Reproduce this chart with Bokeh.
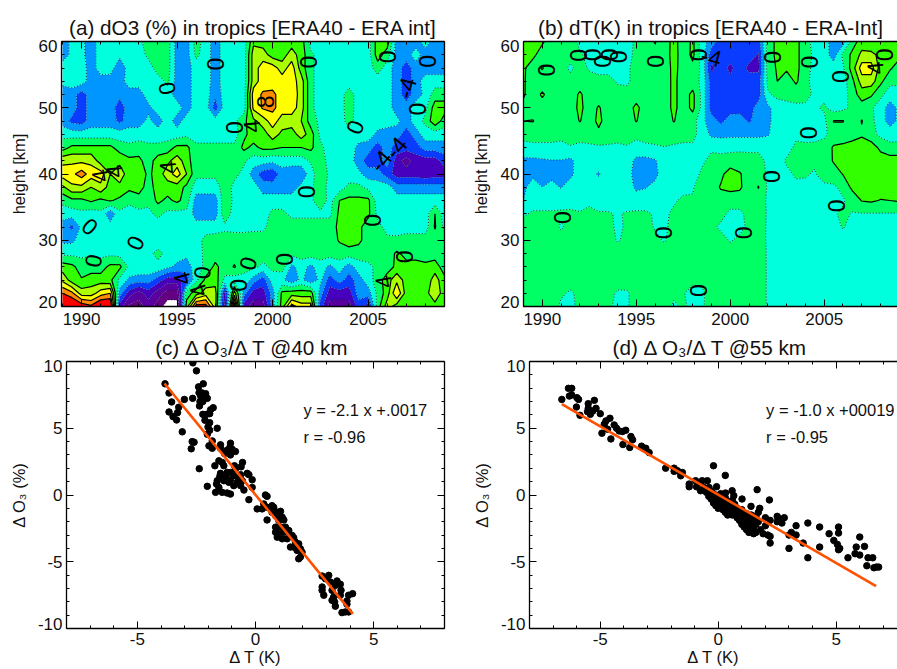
import numpy as np
from bokeh.embed import file_html
from bokeh.resources import INLINE
from bokeh.plotting import figure
from bokeh.layouts import column, row
from bokeh.models import LinearAxis, SingleIntervalTicker, FixedTicker, Label, ColumnDataSource
from bokeh.core.properties import value

FONT = "Liberation Sans"

years = [1989 + 0.5 * i for i in range(41)]
heights = [20, 22, 24, 26, 28, 30, 32, 34, 36, 38, 40, 42, 44, 46, 48, 50, 52, 54, 56, 58, 60]

a20 = [13,13,11.5,10.5,13,13,-7,-10.5,-11,-9, -11,-13,-13,3,11,11,5,-9,12,-7, -9,-9,-3,3,9,7,7,-5,-9,-9, -9,-5,-7,1,5,3,2.5,3,3,3, 3]
a22 = [10,8.5,5,5,7,8,-3,-7,-9,-7, -9,-11,-11,1,3,5,5,-7,5,-3, -7,-7,-3,2.5,3,3,3,-3,-7,-7, -7,-3,-3,0.5,3,8,3,3,3,6, 2.5]
a24 = [5.5,3,2.2,3,3,2.5,-0.5,-2.5,-3,-3, -5,-7,-7,-5,-0.5,2.5,3,-0.5,-1,-0.5, -3,-5,-1,-1.5,-3.5,-1.5,-3.5,-1.5,-5,-3, -5,-3,-1,1,3,5.5,3,3,2.5,5, 2.5]
a26 = [3,2.5,1,1,1,2.5,2.5,-0.5,-0.5,-0.5, -0.5,-1.5,-2.5,-3,-1,0.5,2.5,1,2.2,0.5, 0.5,-0.5,0.5,1,-2.5,-1.2,-2.5,-1,-2.5,-1, -3,-1,-0.5,0.5,1,2.5,2.5,3,2.5,3, 1]
a28 = [-0.5,-0.5,-0.5,-0.3,-0.5,-0.5,-0.8,-1,-1,-0.5, 0.5,-0.5,-1,-1.5,-1,0.5,1,1,1,1, 1,1,0.5,1.5,0.5,1,1,1,1,1, 1,1,1,1,1,2.3,1.5,1,1,1, 1]
a30 = [-2.5,-2.5,-1,-1,-1,-1,-1,-1,-1,-1, -1,-1,-1,-1,-1,0.7,1,1,1,1, 1,1,1,1,1,1,1,1,1,2.2, 3,2.5,1,0.5,0.3,0.5,1,1,1,1, 1]
a32 = [-3,-4.5,-1.5,-1,-0.5,-1,-1,-1,-1,-1, -1,-1,-1,-1,-1,-1,-1,-0.5,-0.7,-0.7, -0.5,-0.5,1,0.5,1,1,1,1,1,2.5, 2.5,2.5,1,0.5,-0.5,-1,-1,-1,-1,2.2, -0.5]
a34 = [-1,-1,-0.5,-1,-0.5,-3.5,-0.5,-1,-0.5,-0.5, 0.5,-0.5,-0.7,-0.5,-3,-3,-3,1.5,-1,-1, -1,-1,0.5,0.5,-0.5,-0.5,-0.5,-0.5,-0.5,2.5, 2.5,2.3,2.5,-0.5,-1,-1,-1,-1,-1,2, -1]
a36 = [0.5,1.5,1.5,2.3,1.5,2.2,1.5,0.5,1,0.5, 2.5,1.5,2.5,1,-3,-3,-3,1.5,-0.5,-0.5, -1,-1,-1,-1,-1,-1,-0.5,1.5,-0.8,2, 2.5,2.5,2.5,-1,-1,-1,-1,-1,-1,-1, -1]
a38 = [3.5,5.5,5.5,4,5.5,3,3.5,2.5,3,1, 3,3,3,1.5,-1,-1,-1,1,-0.5,-0.5, -1,-3,-3,-3,-3,-1.5,-0.5,1.5,-1,-1, 0.5,0.5,-0.5,-1,-1,-3,-3,-3,-3,-3, -3]
a40 = [7,7.5,9,7,7,4,5,3,3.5,1.5, 3,5,7,4,0.5,0.5,0.5,0.5,0.5,-0.5, -3,-5,-5.5,-3,-3.5,-3.5,-1,1.5,-0.5,-1, -1,-1.5,-3,-3,-5,-7,-7,-7,-7.5,-7, -7]
a42 = [5.5,5.5,5.5,5.5,3,3.5,3.5,2.5,2.5,1, 3,3.5,5,3,0.5,0.5,0.5,0.5,0.5,0.3, -1,-1,-1.5,-1,-1,-1,0.3,1.2,-1,-1, -1,-3,-5,-5,-3,-7,-9,-7,-7,-7, -5]
a44 = [1,2.5,2.5,2.5,2.5,2.5,1,0.5,1,0.5, 0.5,1,2.5,2.5,0.5,0.5,0.5,0.5,0.5,2.5, 1.5,2.5,2.5,2,2,2,2.5,0.5,-1,-1, -1,-2.5,-3,-5,-3,-5,-5,-5,-3,-3, -3]
a46 = [-0.5,-1,-1,-1,-1,-1,-1,-1,-1,-1, -1,-1,-1,-0.5,-1,-1,-1,-1,-1,1.5, 3,3,5,3.5,3,5,3,-0.5,-1,-1, -1,-1,-1,-2.5,-3,-3,-5,-3,-1,-1, -1]
a48 = [-3,-4.5,-5,-3,-3,-3,-4.5,-3,-3,-1.5, -3,-1,-3,-1,-1,-1,-1,-1,-0.5,1.5, 3.5,5,7,5,5,4,1,-0.5,-1,-1, 0.8,-1,-1,-1,-1,-1.5,-3,-1,0.5,3.5, 1]
a50 = [-3,-3,-5,-3,-3,-3,-5,-3,-3,-2.5, -1,-1,-1,-3,-1,-1,-5,-1,-1,-1, 6.5,8.3,8.5,7,7,5,0.5,-1,-1,-1, 1,-1,-1,-1,-1,-3,-3,-1,-0.5,3, 3]
a52 = [-3,-3,-5,-3,-3,-3,-3.5,-3,-3,-1, -1,-1,-3,-3,-1,-1,-3.5,-1,-1,-1, 7,8.3,8.5,7,7.5,5,0.5,-1,-1,-1, 1,-1,-1,-1,-1,-3,-5,-3,-1.5,1, 1]
a54 = [-1.5,-1,-1,-3,-3,-3,-3,-1,-1,-1, -1,0.5,-3,-3,-1,-1,-3,-1,-1,-1, 5,7,7,7,7,5,0.5,-1,-1,-1, -1,-1,-1,-1,-1,-3,-5,-3,-1,-1, -1]
a56 = [-1,-1,-1,-3,-1,-1,-3.5,-1,-1,-1, 1,1,-3,-3,-1,-1,-3,-1,-1,-1, 5,7,7,5,7,3,0.5,-1,-1,-1, -1,-1,-1,1,-1,-3,-5,-3,-3,-3, -3]
a58 = [-3,-1.5,-1.5,-3,-1,-1,-1.5,-1,-1,0.5, 1,1,-3,-3,0.5,-1,-3,-1,-1,-1, 5,5,3,3,5,3,0.5,-1,-1,-1, -1,-1,-1,3,1,-3,-3,-1,-3,-3, -3]
a60 = [-3,-1.5,-1.5,-3,-1,-1,-1,-1,-0.5,1, 1,1,-3,-3,1,-1,-3,-1,-1,-1, 3.5,3,3,3,3,3,-1,-1,-1,-1, -1,-1,-1,3,3,-3,-3,-3,-1,-3, -3]
dO3 = [a20,a22,a24,a26,a28,a30,a32,a34,a36,a38,a40,a42,a44,a46,a48,a50,a52,a54,a56,a58,a60]

b20 = [1,1,1,1,-0.4,-0.5,0.5,1,1,0.3, -0.4,-0.3,1,1,1,1,-0.4,0.3,-0.5,-0.3, 1,1,1,1,1,1,-0.2,-1,-1,-1, -1,-1,-1,-1,-1,-1,-1,-1,-1,-1, -1]
b22 = [1,1,1,1,0.3,-0.3,0.5,1,1,0.7, -0.3,-0.3,1,1,1,1,0.5,0.1,-0.5,-0.3, 0.8,1,1,1,1,1,-0.2,-1,-1,-1, -1,-1,-1,-1,-1,-1,-1,-1,-1,-1, -1]
b24 = [1,1,1,1,1,1,1,1,1,1, 1,1,1,1,1,1,1,1,0.3,0.4, 1,1,1,1,1,1,-0.2,-1,-1,-1, -1,-1,-1,-1,-1,-1,-1,-1,-1,-1, -1]
b26 = [1,1,1,1,1,1,1,1,1,1, 1,1,1,1,1,1,1,1,1,1, 1,1,1,1,1,1,-0.2,-1,-1,-1, -1,-1,-1,-1,-1,-1,-1,-1,-1,-1, -1]
b28 = [1,1,1,1,1,1,1,1,1,1, 1,1,1,1,1,1,1,1,1,1, 1,1,1,1,1,1,-0.2,-1,-1,-1, -1,-1,-1,-1,-1,-1,-1,-1,-1,-1, -1]
b30 = [1,1,1,1,1,1,1,1,1,1, -0.2,0.5,1,1,0.5,-0.2,1,1,1,1, 1,0.8,-0.2,0.5,0.5,0.7,-0.2,-1,-1,-1, -1,-1,-1,-1,-1,-1,-1,-1,-1,-1, -1]
b32 = [1,1,1,1,-0.3,0.7,1,1,1,0.5, -0.3,0.2,0.7,0.7,-0.2,-0.4,0.7,1,1,1, 0.5,-0.4,-0.7,-0.7,0.5,0.7,-0.2,-1,-1,-1, -1,-1,-1,-1,0.2,-1,-1,-1,-1,-1, -1]
b34 = [-0.3,0.3,0.3,0.3,0.4,0.5,0.2,0.5,0.2,0.2, -0.2,0.2,0.3,0.3,-0.2,-0.3,0.3,0.5,0.5,1, 1,0.7,-0.5,-0.5,0.7,1,-0.2,-1,-1,-1, -1,-1,-1,-0.2,0.3,-0.1,-0.1,-0.1,-0.1,-0.1, -0.1]
b36 = [-2,-1,-1,-1,-1,-1,-1,-0.4,-1,-1, -1,-1,-1,-1,-1,-1,-0.2,0.3,0.2,0.8, 1,1,1,1,1,1,-0.3,-1,-1,-1, -1,-1,-0.8,-0.7,-0.2,0.7,2.1,2.3,1.9,2, 2.2]
b38 = [-2.5,-1,-2,-1.5,-2.1,-1,-1,-1,-1,-1, -1,-1,-2.4,-2.1,-1.5,-1,-0.8,-0.5,-0.2,1, 1,2.2,2.5,2.3,1,2.1,-0.3,-1,-1,-0.5, -0.7,-1,-1,-0.3,0.5,2.5,3,3,3,3, 3]
b40 = [-3,-2.5,-2.5,-2.5,-2.5,-2.5,-1,-1.5,-2.2,-1, -1,-1,-3,-3,-2.5,-1,-1,-1,-0.7,0.3, 1,1.5,3,2.2,1,1,-0.3,-1,-0.5,0.3, 0.3,-0.3,2,1,2.1,3,3,4,3,3, 3]
b42 = [-2.5,-2.5,-2.3,-2.1,-2.1,-2.5,-1,-1,-1,-1, -1,-1,-2.5,-2.6,-2.2,-1,-1,-1,-1,-0.3, 0.5,0.8,0.8,0.8,0.8,0.8,-0.5,-1,0.3,0.5, 0.5,0.5,0.7,2.2,2.2,3,3,4,3,3, 3]
b44 = [-0.5,-0.3,-0.3,-0.3,-0.5,-0.1,-0.3,-0.2,-0.3,-0.3, -0.5,-0.2,-0.7,-0.5,-0.3,-0.1,-0.3,-0.4,-0.3,-0.5, -0.3,-0.7,-0.5,-0.4,-0.5,-0.5,-0.8,-0.3,-1,0.5, 0.3,0.5,1,2.2,2.4,3,3.1,3,1.5,0.5, 0.5]
b46 = [0.5,0.5,0.5,0.5,0.5,0.5,0.5,0.5,1.5,1, 1,1,0.5,1,1,1.5,1,0.7,0.5,-0.7, -2.5,-2.5,-2.5,-2.5,-2.5,-2.5,-2.2,-1,-1,-0.5, -0.5,-0.7,-0.5,1,1,1,1.7,0.7,-0.5,-0.7, -0.7]
b48 = [2,2.1,1,1,1,1,2.1,1,2.5,1, 1,1,2.1,1,1,1,2.1,1,1,-1.5, -3,-4.5,-3,-3,-4.3,-3,-2.5,-1,-1,-1, -1,-1,-0.5,2.1,2.1,0.7,2.1,0.5,-1,-3, -1.5]
b50 = [1.5,1,1,1,1,1,2.5,1,2.2,1, 1,1,2.5,1,1,1,2.5,1,2.5,-0.5, -5,-5,-5,-4.8,-5,-3,-2.5,-1,-0.5,-0.5, -0.5,-0.3,0.3,-1,-0.5,0.5,1,0.3,-1,-3, -1.5]
b52 = [2.2,1,2.3,1,1,1,2.3,1,1,1, 1,1,1,1,1,1,2.5,1,2.5,-0.5, -5,-5,-6,-5,-5,-5,-0.3,0.5,0.5,1, 0.8,-0.5,-0.5,-1,-1,1,3,2.3,0.5,-1, -1]
b54 = [2.3,0.7,0.7,1,1,1,1,1,0.5,1, -0.3,-0.5,1,1,1,1,2.5,1,1,-0.5, -5,-5,-5.5,-5,-5,-5,0.5,2,1,2.3, 0.7,-1,-1,-1,-1,1.5,5,5,2.5,0.5, 0.5]
b56 = [2.3,1,2.2,0.5,1,-0.5,1,-0.3,-0.5,-1, -0.5,-0.5,1,1,1,0.7,2.7,1,1.5,-0.5, -6.5,-5,-6.5,-5,-6.5,-6.5,1,2.2,2.3,2.5, 1,-0.8,-0.5,-1,-0.3,3,7,7,3,2.3, 1]
b58 = [2.3,2.5,1,0.5,1,1,0.2,-0.5,-1,-1, -1,-0.7,0.5,0.7,1,0.7,3,0.7,2.5,-1, -5,-5.5,-5,-5.5,-5,-6.2,1,2.5,3,2.5, 1,-0.5,-1,-3,0.5,2.5,4.5,4.5,3.5,2.5, 2.5]
b60 = [2.3,2.5,2.3,1,1.5,1,-0.5,-1,-1,-1, -1,-1,0.5,0.5,2.2,0.5,3,0.5,2.5,-1, -3,-5,-5,-5,-5,-5,1,2.5,3,2.5, 1,-1,-1,-3,-3,1,3,2.5,3,2.5, 3]
dT = [b20,b22,b24,b26,b28,b30,b32,b34,b36,b38,b40,b42,b44,b46,b48,b50,b52,b54,b56,b58,b60]

levels = [-12,-10,-8,-6,-4,-2,0,2,4,6,8,10,14]
colors = ["#640082","#5a00a0","#4600be","#0a3cff","#0096ff","#00ffdc","#00ff64","#32ff00","#aaff00","#ffff00","#ff8c00","#ff0000"]
neg_levels = [-12,-10,-8,-6,-4,-2,0]
pos_levels = [2,4,6,8,10]

a_lab_txt = ["0","0","0","0","0","0","0","0","0","0","0","0","0","0","0","0","0","0",
             "4","4","4","4","4","4","4","8","-4","-4","-4"]
a_lab_x = [1994.45,1997.0,1990.45,1992.8,1990.6,1998.0,2004.3,2001.75,2005.25,2007.6,2006.0,2008.1,1996.3,1998.7,1998.2,2000.65,2006.9,2001.9,
           1990.95,1991.7,1994.5,1995.25,1996.1,1998.9,2005.8,1999.65,2007.0,2005.65,2006.45]
a_lab_y = [52.9,56.6,32.1,29.6,26.9,47.0,47.1,37.3,33.0,49.8,57.7,57.0,25.1,26.5,23.2,27.1,27.5,56.9,
           39.7,40.4,41.0,24.2,22.4,47.2,23.7,50.9,53.0,42.0,44.0]
a_lab_a = [100,90,-40,65,80,90,70,90,90,90,90,90,85,75,90,90,90,90,
           100,95,95,105,110,95,100,90,75,50,50]
b_lab_txt = ["0"]*19 + ["-4","4"]
b_lab_x = [1990.2,1991.92,1992.68,1993.18,1993.55,1994.06,1991.1,1996.0,1998.3,2002.25,2004.2,2004.15,2005.85,2002.22,2005.63,1996.45,2000.7,1998.3,2008.2,
           1999.0,2007.7]
b_lab_y = [55.7,57.9,58.0,57.0,58.0,57.7,33.4,57.0,58.0,57.6,56.9,46.2,54.7,39.6,35.2,31.1,31.1,22.4,58.0,
           57.7,56.0]
b_lab_a = [90]*19 + [-15,95]

c_x = [-2.65,-2.5,-3.83,-2.21,-2.41,-3.66,-2.39,-2.28,-2.11,-2.32,-2.04,-3.01,-2.66,-3.55,-2.35,-2.23,-2.37,-3.25,-1.79,-1.9,-3.66,-3.3,-2.23,-2.08,-1.94,-3.49,-3.34,-2.14,-1.94,-2.01,-1.62,-1.94,-3.1,-2.04,-1.83,-2.68,-2.6,-2.72,-1.97,-1.83,-1.48,-1.48,-1.06,-1.08,-.99,-1.2,-.85,-1.31,-1.06,-1.55,-1.41,-.55,-1.72,-1.34,-.89,-.61,-2.38,
       -.85,-1.2,-1.48,-1.06,-.35,-1.51,-1.27,-.92,-.63,-.28,-1.62,-1.34,-1.06,-.7,-.14,-1.65,-1.13,-.77,-.56,-2.04,-1.55,-.92,-.63,-.14,-1.69,-1.41,-1.2,-1.06,-.49,-.28,
       .42,.49,.07,.28,.35,.49,.7,.77,.49,.7,.92,1.06,.85,1.13,.99,1.2,.85,1.06,1.27,.85,.99,1.2,1.41,.92,1.13,1.34,1.55,1.62,1.48,1.69,1.83,1.62,1.9,1.97,1.83,1.9,1.76,
       2.82,3.1,2.96,3.45,3.59,3.17,3.38,2.82,2.82,2.89,3.24,3.62,4.11,3.94,3.31,3.59,3.24,3.35,3.87,3.38,3.87,3.66,3.8,3.94]
c_y = [9.9,9.3,8.33,8.33,8.1,7.64,7.66,7.66,7.59,7.41,7.24,7.16,7.24,6.97,7,7,6.67,6.57,6.54,6.39,6.22,6.17,6.04,6.04,6.09,5.87,5.62,5.6,5.42,5.1,5,4.85,4.73,4.55,4.05,4,3.95,3.46,3.68,3.5,3.76,3.5,3.88,3.6,3.43,3.36,3.26,3.11,3,2.56,2.44,2.44,2.19,2.19,2.19,2.11,1.97,
       1.94,1.69,1.62,1.69,1.62,1.39,1.32,1.44,1.52,1.52,1.07,1.07,1.14,1.19,1.14,.82,.95,.95,1.07,.65,.57,.7,.7,.57,.2,.2,.15,.07,.37,-.35,
       0,-.1,-1.04,-1.04,-.67,-.92,-.8,-.92,-1.87,-1.29,-1.29,-1.22,-1.54,-1.67,-1.92,-1.87,-2.41,-2.41,-2.41,-2.79,-2.91,-2.79,-2.66,-3.16,-3.28,-3.28,-3.03,-3.21,-3.9,-3.53,-3.66,-3.9,-4.03,-4.28,-4.78,-4.65,-4.15,
       -6.07,-6.02,-6.27,-6.44,-6.69,-6.52,-6.77,-6.89,-7.14,-7.51,-7.14,-7.14,-7.39,-7.51,-7.64,-7.51,-7.89,-8.01,-7.94,-8.33,-8.18,-8.81,-8.76,-8.76]
c_fit_x = [-3.85, 4.12]
c_fit_y = [8.35, -8.9]

d_x = [-6.63,-6.35,-6.21,-6.31,-6.21,-5.99,-5.92,-6.01,-5.86,-5.51,-5.25,-5.51,-5.18,-5.54,-5.32,-5.42,-5,-4.59,-4.76,-4.41,-4.31,-4.83,-4.93,-4.69,-4.2,-4.06,-3.92,-4.55,-3.7,-3.63,-4.04,-3.75,-3.25,-3.07,-2.93,-2.23,-1.87,-1.73,-1.59,-1.87,-1.52,-1.23,-1.23,-.96,-.92,-.68,-.46,-.75,-.61,
       -.2,.3,1.65,2.17,1.01,1.39,1.76,.59,.31,.66,-.07,-.39,
       -.5,-.4,-.3,-.3,-.2,-.2,-.1,-.1,0,0,0,.1,.1,.1,.2,.2,.3,.3,.3,.4,.4,.4,.5,.5,.6,.6,.6,.7,.7,.8,.8,.9,.9,1,1,1,1.1,1.1,1.2,1.2,1.2,1.3,1.3,1.3,1.4,1.4,1.4,1.5,1.5,1.5,1.6,1.6,1.6,1.7,1.7,1.8,1.9,2,2,2.1,2.2,2.2,2.2,2.5,2.5,2.6,2.7,2.8,
       3,3.1,3.3,3.3,3,3.6,3.8,3.8,4.3,4.3,4.7,4.9,5.05,5.1,5.1,5.1,5.15,5.5,5.8,5.85,6,6,6.2,6.35,6.55,6.3,6.6,6.8,6.7]
d_y = [7.16,7.99,7.99,7.41,7.49,7.29,7.16,6.59,5.97,6.84,7.09,6.49,6.49,6.24,6.29,6.04,6.09,5.75,5.55,5.25,5,5.3,4.63,4.93,4.8,4.75,4.85,4.2,4.38,4.13,3.78,3.56,3.66,3.5,3.18,2.01,2.01,1.82,1.44,1.77,1.69,.82,.62,1.07,.62,1.07,1.07,.32,.57,
       2.19,1.47,.4,-.37,-.3,-.85,-1,.32,.15,-.05,.62,.57,
       .2,-.1,.3,-.3,-.6,.1,-.4,-.8,-.2,-.6,-1,.1,-.4,-.8,-.6,-1.1,-.2,-.9,-1.3,-.5,-1,-1.5,-.7,-1.2,-.4,-1,-1.5,-.7,-1.3,-1,-1.7,-1.9,-1.4,-1.1,-1.6,-2.2,-1.8,-2.4,-1.4,-2,-2.6,-1.7,-2.3,-2.8,-1.5,-2.1,-2.6,-1.8,-2.4,-2.9,-1.6,-2.2,-2.8,-1.3,-2,-2.6,-2.9,-1.7,-2.3,-3,-3.1,-3.6,-1.9,-1.6,-2,-1.8,-2.1,-1.7,
       -3,-2.8,-3,-2.3,-4,-3.6,-2.1,-4.7,-2.4,-3.9,-2.9,-3.4,-3.7,-2.4,-2.85,-4.1,-4,-4.7,-4.4,-3.9,-4.5,-3.15,-3.85,-4.7,-4.7,-5.3,-5.45,-5.4,-5.4]
d_fit_x = [-6.63, 6.69]
d_fit_y = [6.8, -6.82]

LINE = "#ff5000"
TICK_PX = "17px"


def blank_axis(ticker, vals):
    return LinearAxis(ticker=ticker, major_label_text_font_size="1px", major_label_standoff=0,
                      major_label_overrides={v: "" for v in vals})


def style(p, xint, xminor, yint, yminor, xvals, yvals, right=True):
    p.outline_line_color = None
    p.grid.visible = False
    bottom, left = p.below[0], p.left[0]
    bottom.major_label_text_font = FONT
    bottom.major_label_text_font_size = TICK_PX
    bottom.major_label_text_color = "#111111"
    bottom.axis_label_text_font = FONT
    bottom.axis_label_text_font_size = "16.5px"
    bottom.axis_label_text_font_style = "normal"
    bottom.axis_label_text_color = "#111111"
    xt = SingleIntervalTicker(interval=xint, num_minor_ticks=xminor)
    yt = SingleIntervalTicker(interval=yint, num_minor_ticks=yminor)
    bottom.ticker = xt
    left.ticker = yt
    left.major_label_text_font_size = "1px"
    left.major_label_standoff = 0
    left.major_label_overrides = {v: "" for v in yvals}
    axes = [bottom, left]
    top = blank_axis(xt, xvals)
    p.add_layout(top, "above")
    axes.append(top)
    if right:
        rgt = blank_axis(yt, yvals)
        p.add_layout(rgt, "right")
        axes.append(rgt)
    for ax in axes:
        ax.axis_line_color = "black"
        ax.axis_line_width = 1.3
        ax.major_tick_line_color = "black"
        ax.minor_tick_line_color = "black"
        ax.major_tick_line_width = 1
        ax.major_tick_in = 7
        ax.major_tick_out = 0
        ax.minor_tick_in = 3
        ax.minor_tick_out = 0


def title(p, text, standoff, offset=0):
    p.title.text = text
    p.title.text_font = FONT
    p.title.text_font_size = "20.7px"
    p.title.text_font_style = "normal"
    p.title.text_color = "#111111"
    p.title.align = "center"
    p.title.offset = offset
    p.title.standoff = standoff


def label_axis(p, ticks, labels, axis_label, standoff):
    """Second left axis carrying the y labels; IDL draws the end labels just inside the frame."""
    ax = LinearAxis(ticker=FixedTicker(ticks=ticks),
                    major_label_overrides=dict(zip(ticks, labels)),
                    major_label_text_font=FONT, major_label_text_font_size=TICK_PX,
                    major_label_text_color="#111111", major_label_standoff=4,
                    axis_line_color=None, major_tick_line_color=None, minor_tick_line_color=None,
                    major_tick_in=0, major_tick_out=0, minor_tick_in=0, minor_tick_out=0,
                    axis_label=axis_label, axis_label_standoff=standoff, axis_label_text_font=FONT,
                    axis_label_text_font_size="16.5px", axis_label_text_font_style="normal",
                    axis_label_text_color="#111111")
    p.add_layout(ax, "left")


def contour_panel(width, height, mb, xr, yr, z, lx, ly, ltxt, la, right):
    p = figure(width=width, height=height, x_range=xr, y_range=yr, output_backend="svg",
               toolbar_location=None, min_border_left=mb[0], min_border_right=mb[1],
               min_border_top=mb[2], min_border_bottom=mb[3])
    style(p, 5, 5, 10, 5, [1990, 1995, 2000, 2005], [20, 30, 40, 50, 60], right=right)
    zz = np.array(z, dtype=float)
    X, Y = np.meshgrid(np.array(years), np.array(heights, dtype=float))
    p.contour(X, Y, zz, levels=levels, fill_color=colors)
    p.contour(X, Y, zz, levels=neg_levels, line_color="#102040", line_width=0.9, line_dash="1 2")
    p.contour(X, Y, zz, levels=pos_levels, line_color="black", line_width=1.2)
    src = ColumnDataSource(dict(x=lx, y=ly, t=ltxt, a=la))
    p.text("x", "y", text="t", angle="a", angle_units="deg", source=src, text_font=value(FONT),
           text_font_size="23px", text_align="center", text_baseline="middle", text_color="black")
    p.below[0].major_label_standoff = 6
    label_axis(p, [20.74, 30, 40, 50, 59.26], ["20", "30", "40", "50", "60"], "height [km]", 8)
    return p


def scatter_panel(width, height, mb, xr, sx, sy, fx, fy, line1, line2, tx, right):
    p = figure(width=width, height=height, x_range=xr, y_range=(-10, 10), output_backend="svg",
               toolbar_location=None, min_border_left=mb[0], min_border_right=mb[1],
               min_border_top=mb[2], min_border_bottom=mb[3])
    style(p, 5, 5, 5, 5, [-5, 0, 5], [-10, -5, 0, 5, 10], right=right)
    p.scatter(sx, sy, size=6.5, color="black", line_color="black")
    p.line(fx, fy, line_color=LINE, line_width=2.6)
    p.below[0].major_label_standoff = 4
    p.below[0].major_label_overrides = {-5: "-5"}
    p.below[0].axis_label = "\u0394 T (K)"
    p.below[0].axis_label_standoff = 0
    label_axis(p, [-9.63, -5, 0, 5, 9.63], ["-10", "-5", "0", "5", "10"], "\u0394 O\u2083 (%)", 7)
    for txt, yy in ((line1, 6.37), (line2, 4.35)):
        p.add_layout(Label(x=tx, y=yy, text=txt, text_font=FONT, text_font_size="16.5px",
                           text_baseline="middle", text_color="#111111"))
    return p


pa = contour_panel(460, 331, (61, 16, 35, 25), (1988.95, 2009.0), (20, 60), dO3,
                   a_lab_x, a_lab_y, a_lab_txt, a_lab_a, True)
title(pa, "(a) dO3 (%) in tropics [ERA40 - ERA int]", 6)
pb = contour_panel(437, 331, (63, 0, 41, 24), (1989.0, 2008.9), (20, 60), dT,
                   b_lab_x, b_lab_y, b_lab_txt, b_lab_a, False)
title(pb, "(b) dT(K) in tropics [ERA40 - ERA-Int]", 6, 0)
pc = scatter_panel(460, 338, (66, 16, 29, 41), (-8, 8), c_x, c_y, c_fit_x, c_fit_y,
                   "y =  -2.1 x +.0017", "r = -0.96", 2.03, True)
title(pc, "(c) \u0394 O\u2083/\u0394 T  @40 km", 5, 10)
pd_ = scatter_panel(437, 338, (69, 0, 29, 41), (-8, 7.6), d_x, d_y, d_fit_x, d_fit_y,
                    "y =  -1.0 x +00019", "r = -0.95", 2.03, False)
title(pd_, "(d) \u0394 O\u2083/\u0394 T  @55 km", 5, 10)

layout = column(row(pa, pb), row(pc, pd_))
open("out.html", "w").write(file_html(layout, INLINE))
